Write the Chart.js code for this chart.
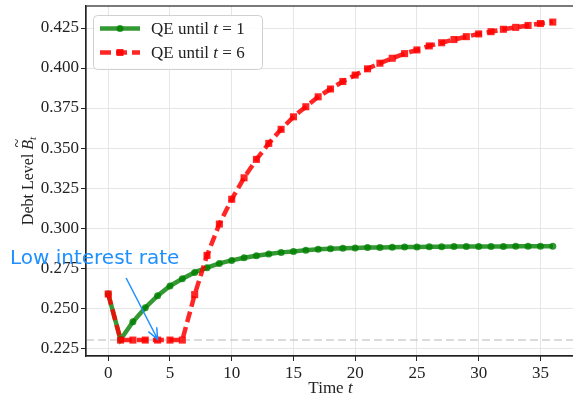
<!DOCTYPE html>
<html>
<head>
<meta charset="utf-8">
<script src="https://cdn.jsdelivr.net/npm/chart.js@4/dist/chart.umd.min.js"></script>
<style>
  html, body { margin: 0; padding: 0; background: #fff; overflow: hidden; }
  #wrap { width: 573px; height: 397px; overflow: hidden; }
</style>
</head>
<body>
<div id="wrap"><canvas id="debtChart" width="575" height="397"></canvas></div>
<script>
// periods t = 0..36
const periods = [0, 1, 2, 3, 4, 5, 6, 7, 8, 9, 10, 11, 12, 13, 14, 15, 16, 17, 18,
  19, 20, 21, 22, 23, 24, 25, 26, 27, 28, 29, 30, 31, 32, 33, 34, 35, 36];

// debt level when QE stops after t = 1
const qeUntil1 = [0.2588, 0.2303, 0.2414, 0.2502, 0.2577, 0.2638, 0.2683, 0.2723, 0.2752,
  0.2779, 0.2798, 0.2814, 0.2827, 0.2838, 0.2848, 0.2854, 0.2862, 0.2867, 0.2871,
  0.2874, 0.2876, 0.2878, 0.2879, 0.2880, 0.2881, 0.2882, 0.2883, 0.2883, 0.2884,
  0.2884, 0.2885, 0.2885, 0.2885, 0.2886, 0.2886, 0.2886, 0.2886];

// debt level when QE stops after t = 6
const qeUntil6 = [0.2588, 0.2300, 0.2300, 0.2300, 0.2300, 0.2300, 0.2300, 0.2584, 0.2829,
  0.3025, 0.3180, 0.3314, 0.3429, 0.3529, 0.3617, 0.3695, 0.3758, 0.3820, 0.3869,
  0.3916, 0.3956, 0.3995, 0.4030, 0.4061, 0.4090, 0.4113, 0.4138, 0.4158, 0.4178,
  0.4196, 0.4213, 0.4227, 0.4242, 0.4254, 0.4266, 0.4278, 0.4287];

const xTicks = [0, 5, 10, 15, 20, 25, 30, 35];
const yTicks = [0.225, 0.250, 0.275, 0.300, 0.325, 0.350, 0.375, 0.400, 0.425];

// lower bound of the debt level (dashed line)
const floorLevel = 0.23;

// annotation: text position, arrow start and arrow tip in data units
const noteText = 'Low interest rate';
const noteAt = [-1.1, 0.2806];
const arrowFrom = [1.45, 0.2688];
const arrowTo = [4, 0.2305];

const GREEN = 'rgba(0, 128, 0, 0.8)';
const RED = 'rgba(255, 0, 0, 0.85)';
const BLUE = '#1e90ff';
const serif = "'Liberation Serif', 'Times New Roman', serif";

function toPoints(values) {
  return periods.map((t, i) => ({ x: t, y: values[i] }));
}

// writes a row of text pieces, some italic, starting at x
function richText(ctx, parts, x, y, size) {
  let cx = x;
  parts.forEach(([txt, italic]) => {
    ctx.font = (italic ? 'italic ' : '') + size + 'px ' + serif;
    ctx.fillText(txt, cx, y);
    cx += ctx.measureText(txt).width;
  });
  return cx;
}

function richWidth(ctx, parts, size) {
  let w = 0;
  parts.forEach(([txt, italic]) => {
    ctx.font = (italic ? 'italic ' : '') + size + 'px ' + serif;
    w += ctx.measureText(txt).width;
  });
  return w;
}

// keep the plot box fixed: no extra room for edge labels
function fixPadding(s) {
  s.paddingTop = 0;
  s.paddingBottom = 0;
  s.paddingLeft = 0;
  s.paddingRight = 0;
}

const decorations = {
  id: 'decorations',
  beforeDatasetsDraw(chart) {
    const { ctx, chartArea, scales } = chart;
    const y = scales.y.getPixelForValue(floorLevel);
    ctx.save();
    ctx.strokeStyle = '#cfcfcf';
    ctx.lineWidth = 1.5;
    ctx.setLineDash([8, 4]);
    ctx.beginPath();
    ctx.moveTo(chartArea.left, y);
    ctx.lineTo(chartArea.right, y);
    ctx.stroke();
    ctx.restore();
  },
  afterDatasetsDraw(chart) {
    const { ctx, chartArea, scales } = chart;
    const px = (p) => [scales.x.getPixelForValue(p[0]), scales.y.getPixelForValue(p[1])];

    ctx.save();
    // frame around the plot
    ctx.strokeStyle = '#222';
    ctx.lineWidth = 1.2;
    ctx.strokeRect(chartArea.left, chartArea.top, chartArea.right - chartArea.left, chartArea.bottom - chartArea.top);

    // annotation text + arrow
    const [tx, ty] = px(noteAt);
    ctx.fillStyle = BLUE;
    ctx.font = "20px 'DejaVu Sans', sans-serif";
    ctx.textAlign = 'center';
    ctx.textBaseline = 'middle';
    ctx.fillText(noteText, tx, ty);

    const [ax, ay] = px(arrowFrom);
    const [bx, by] = px(arrowTo);
    ctx.strokeStyle = BLUE;
    ctx.lineWidth = 1.5;
    ctx.beginPath();
    ctx.moveTo(ax, ay);
    ctx.lineTo(bx, by);
    const ang = Math.atan2(by - ay, bx - ax);
    const head = 12;
    ctx.moveTo(bx - head * Math.cos(ang - 0.4), by - head * Math.sin(ang - 0.4));
    ctx.lineTo(bx, by);
    ctx.lineTo(bx - head * Math.cos(ang + 0.4), by - head * Math.sin(ang + 0.4));
    ctx.stroke();

    // legend
    const lx = 93, ly = 15, lw = 169, lh = 54;
    ctx.fillStyle = 'rgba(255,255,255,0.85)';
    ctx.strokeStyle = '#d0d0d0';
    ctx.lineWidth = 1;
    ctx.beginPath();
    ctx.roundRect(lx + 0.5, ly + 0.5, lw, lh, 4);
    ctx.fill();
    ctx.stroke();

    const rows = [
      { y: 28.5, color: GREEN, dash: [], marker: 'circle', label: '1' },
      { y: 52.5, color: RED, dash: [11, 5], marker: 'rect', label: '6' }
    ];
    rows.forEach(r => {
      ctx.strokeStyle = r.color;
      ctx.lineWidth = 4.5;
      ctx.setLineDash(r.dash);
      ctx.beginPath();
      ctx.moveTo(100, r.y);
      ctx.lineTo(140, r.y);
      ctx.stroke();
      ctx.setLineDash([]);
      ctx.fillStyle = r.color;
      ctx.beginPath();
      if (r.marker === 'circle') ctx.arc(120, r.y, 3.5, 0, Math.PI * 2);
      else ctx.rect(116.5, r.y - 3.5, 7, 7);
      ctx.fill();

      ctx.fillStyle = '#222';
      ctx.textAlign = 'left';
      ctx.textBaseline = 'middle';
      richText(ctx, [['QE until ', false], ['t', true], [' = ' + r.label, false]], 151, r.y + 1, 17);
    });

    // x axis title
    ctx.fillStyle = '#222';
    ctx.textBaseline = 'middle';
    const xParts = [['Time ', false], ['t', true]];
    const xw = richWidth(ctx, xParts, 17);
    const xc = (chartArea.left + chartArea.right) / 2;
    richText(ctx, xParts, xc - xw / 2, 389, 17);

    // y axis title, rotated
    ctx.translate(29, (chartArea.top + chartArea.bottom) / 2);
    ctx.rotate(-Math.PI / 2);
    ctx.font = '16px ' + serif;
    const w1 = ctx.measureText('Debt Level ').width;
    ctx.font = 'italic 16px ' + serif;
    const wB = ctx.measureText('B').width;
    ctx.font = 'italic 11px ' + serif;
    const wt = ctx.measureText('t').width;
    let sx = -(w1 + wB + wt) / 2;
    ctx.font = '16px ' + serif;
    ctx.fillText('Debt Level ', sx, 0);
    sx += w1;
    ctx.font = 'italic 16px ' + serif;
    ctx.fillText('B', sx, 0);
    ctx.textAlign = 'center';
    ctx.font = '16px ' + serif;
    ctx.fillText('~', sx + wB / 2 + 1.5, -11);
    ctx.textAlign = 'left';
    ctx.font = 'italic 11px ' + serif;
    ctx.fillText('t', sx + wB, 4);
    ctx.restore();
  }
};

const tickFont = { family: serif, size: 17 };

new Chart(document.getElementById('debtChart'), {
  type: 'line',
  data: {
    datasets: [
      {
        label: 'QE until t = 1',
        data: toPoints(qeUntil1),
        borderColor: GREEN,
        backgroundColor: GREEN,
        borderWidth: 4.5,
        pointStyle: 'circle',
        pointRadius: 3.5,
        pointBorderWidth: 0,
        pointBackgroundColor: GREEN,
        tension: 0,
        order: 2
      },
      {
        label: 'QE until t = 6',
        data: toPoints(qeUntil6),
        borderColor: RED,
        backgroundColor: RED,
        borderWidth: 4.5,
        borderDash: [11, 5],
        pointStyle: 'rect',
        pointRadius: 5,
        pointBorderWidth: 0,
        pointBackgroundColor: RED,
        tension: 0,
        order: 1
      }
    ]
  },
  options: {
    responsive: false,
    animation: false,
    layout: { autoPadding: false, padding: { top: 6, right: 0, left: 0, bottom: 0 } },
    plugins: {
      legend: { display: false },
      tooltip: { enabled: false }
    },
    scales: {
      x: {
        type: 'linear',
        min: -1.8,
        max: 37.8,
        afterBuildTicks: s => { s.ticks = xTicks.map(v => ({ value: v })); },
        afterFit: s => { s.height = 41; fixPadding(s); },
        grid: { color: '#e6e6e6', lineWidth: 1, tickColor: '#222', tickLength: 5 },
        border: { color: '#222', width: 1.2 },
        ticks: { font: tickFont, color: '#222', padding: 2, maxRotation: 0, autoSkip: false,
                 callback: v => String(v) }
      },
      y: {
        type: 'linear',
        min: 0.22005,
        max: 0.43875,
        afterBuildTicks: s => { s.ticks = yTicks.map(v => ({ value: v })); },
        afterFit: s => { s.width = 86; fixPadding(s); },
        grid: { color: '#e6e6e6', lineWidth: 1, tickColor: '#222', tickLength: 5 },
        border: { color: '#222', width: 1.2 },
        ticks: { font: tickFont, color: '#222', padding: 2, autoSkip: false,
                 callback: v => v.toFixed(3) }
      }
    }
  },
  plugins: [decorations]
});
</script>
</body>
</html>
